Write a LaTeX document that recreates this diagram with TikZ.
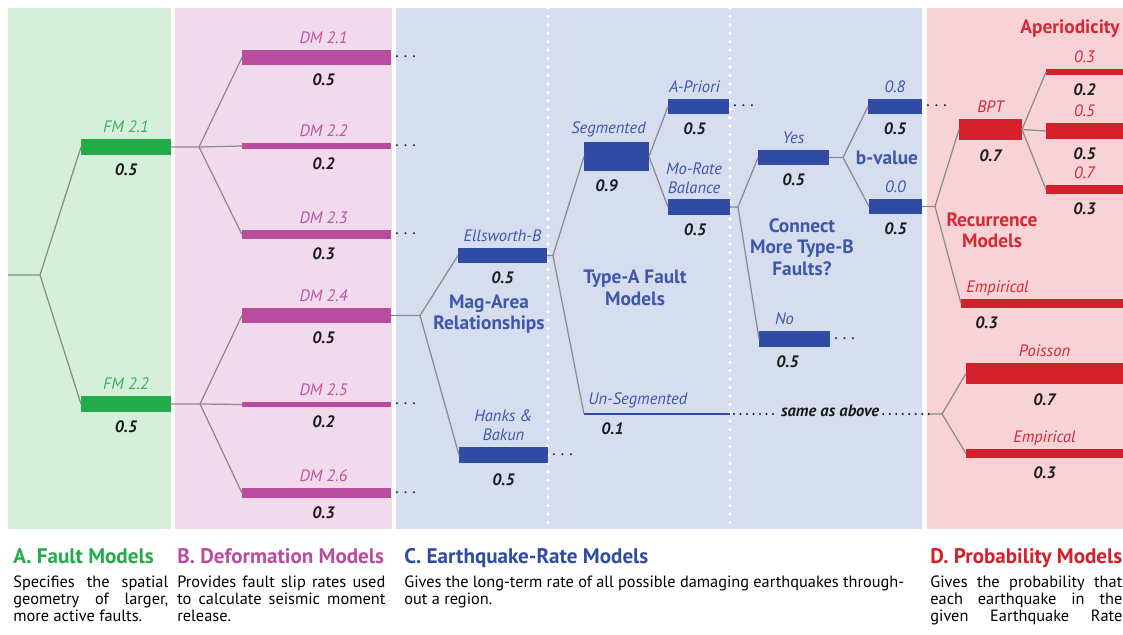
\documentclass[tikz,border=0pt]{standalone}
\usepackage{fontspec}
\setmainfont{PT Sans}
\usepackage{tikz}
\usetikzlibrary{positioning}
\definecolor{fmGreen}{HTML}{22AB4A}
\definecolor{fmText}{HTML}{3CB25A}
\definecolor{fmBg}{HTML}{D5EFDB}
\definecolor{dmPink}{HTML}{B94C9F}
\definecolor{dmText}{HTML}{C052A6}
\definecolor{dmBg}{HTML}{F0DAEB}
\definecolor{erBlue}{HTML}{2F4BA3}
\definecolor{erText}{HTML}{3F57A8}
\definecolor{erBg}{HTML}{D6DDEE}
\definecolor{pmRed}{HTML}{D3202A}
\definecolor{pmText}{HTML}{D72833}
\definecolor{pmBg}{HTML}{F7D3D7}
\definecolor{twigGray}{HTML}{8A8A8A}
\definecolor{wtBlack}{HTML}{1A1A1A}

\begin{document}
\begin{tikzpicture}[
      x=0.02cm, y=-0.02cm,
      twig/.style={draw=twigGray, line width=0.7pt},
      bar/.style={rectangle, inner sep=0pt, outer sep=0pt, anchor=west},
      fmbar/.style={bar, fill=fmGreen, minimum width=1.8cm},
      dmbar/.style={bar, fill=dmPink, minimum width=2.98cm},
      erbar/.style={bar, fill=erBlue},
      pmbar/.style={bar, fill=pmRed},
      wt1/.style={minimum height=0.05cm},
      wt2/.style={minimum height=0.11cm},
      wt3/.style={minimum height=0.19cm},
      wt5/.style={minimum height=0.31cm},
      wt7/.style={minimum height=0.44cm},
      wt9/.style={minimum height=0.58cm},
      lbl/.style={inner sep=0pt, text depth=0pt, align=center,
                  font=\fontsize{9.4}{10.8}\selectfont\itshape},
      wt/.style={inner sep=0pt, text height=6.5pt, text depth=0pt, text=wtBlack,
                  font=\fontsize{9.4}{11}\selectfont\bfseries\itshape},
      grp/.style={align=center, inner sep=0pt,
                  font=\fontsize{11}{12.2}\selectfont\bfseries},
      more/.style={anchor=west, inner sep=0pt, text=wtBlack, font=\fontsize{11}{13}\selectfont},
      dotline/.style={draw=wtBlack, line width=1.3pt, line cap=round, dash pattern=on 0pt off 3.7pt},
      sep/.style={draw=white, line width=2.2pt, line cap=round, dash pattern=on 0pt off 4.8pt},
      head/.style={anchor=base west, inner sep=0pt, font=\fontsize{12}{14}\selectfont\bfseries},
      desc/.style={anchor=base west, inner sep=0pt, align=justify,
                  font=\fontsize{9.3}{9.7}\selectfont},
    ]
    \useasboundingbox (0,0) rectangle (1123,635);

    % ---------- panels ----------
    \fill[fmBg] (8,8) rectangle (171,529);
    \fill[dmBg] (175,8) rectangle (392,529);
    \fill[erBg] (396,8) rectangle (922,529);
    \fill[pmBg] (927,8) rectangle (1123,529);
    \draw[sep] (548,8) -- (548,529);
    \draw[sep] (730,8) -- (730,529);

    % ---------- A. fault models ----------
    \node[fmbar, wt5] (fm1) at (81,147) {};
    \node[fmbar, wt5] (fm2) at (81,404) {};

    % ---------- B. deformation models ----------
    \node[dmbar, wt5] (dm1) at (242,57.5) {};
    \node[dmbar, wt2] (dm2) at (242,146) {};
    \node[dmbar, wt3] (dm3) at (242,234.5) {};
    \node[dmbar, wt5] (dm4) at (242,315.5) {};
    \node[dmbar, wt2] (dm5) at (242,404.5) {};
    \node[dmbar, wt3] (dm6) at (242,493) {};

    % ---------- C. earthquake-rate models ----------
    \node[erbar, wt5, minimum width=1.78cm] (ells)   at (458,255.5) {};
    \node[erbar, wt5, minimum width=1.78cm] (hanks)  at (459,455)   {};
    \node[erbar, wt9, minimum width=1.3cm]  (seg)    at (584,156.5) {};
    \node[erbar, wt1, minimum width=2.92cm] (unseg)  at (584,414)   {};
    \node[erbar, wt5, minimum width=1.22cm] (apri)   at (668,106.5) {};
    \node[erbar, wt5, minimum width=1.24cm] (morate) at (668,207)   {};
    \node[erbar, wt5, minimum width=1.42cm] (yes)    at (758,157.5) {};
    \node[erbar, wt5, minimum width=1.42cm] (no)     at (759,339)   {};
    \node[erbar, wt5, minimum width=1.08cm] (b08)    at (868,106.5) {};
    \node[erbar, wt5, minimum width=1.06cm] (b00)    at (869,206.5) {};

    % ---------- D. probability models ----------
    \node[pmbar, wt7, minimum width=1.26cm] (bpt)  at (959,129.5) {};
    \node[pmbar, wt3, minimum width=3.24cm] (emp1) at (961,303.5) {};
    \node[pmbar, wt2, minimum width=1.54cm] (ap3)  at (1046,72)   {};
    \node[pmbar, wt5, minimum width=1.54cm] (ap5)  at (1046,131)  {};
    \node[pmbar, wt3, minimum width=1.54cm] (ap7)  at (1046,189.5) {};
    \node[pmbar, wt7, minimum width=3.14cm] (pois) at (966,373.5) {};
    \node[pmbar, wt3, minimum width=3.14cm] (emp2) at (966,453.5) {};

    % ---------- branches ----------
    \coordinate (root)    at (8,275);
    \coordinate (bRoot)   at (40,275);
    \coordinate (bFM1)    at (199,147);
    \coordinate (bFM2)    at (200,404);
    \coordinate (bDM4)    at (420,315.5);
    \coordinate (bEll)    at (553,255.5);
    \coordinate (bMo)     at (738,207);
    \coordinate (bYes)    at (843,157.5);
    \coordinate (bB00)    at (935,206.5);
    \coordinate (sameEnd) at (929,414);
    \coordinate (bSame)   at (942,414);

    \draw[twig] (root) -- (bRoot) -- (fm1.west);
    \draw[twig] (bRoot) -- (fm2.west);
    \draw[twig] (fm1.east) -- (bFM1) -- (dm1.west);
    \draw[twig] (bFM1) -- (dm2.west);
    \draw[twig] (bFM1) -- (dm3.west);
    \draw[twig] (fm2.east) -- (bFM2) -- (dm4.west);
    \draw[twig] (bFM2) -- (dm5.west);
    \draw[twig] (bFM2) -- (dm6.west);
    \draw[twig] (dm4.east) -- (bDM4) -- (ells.west);
    \draw[twig] (bDM4) -- (hanks.west);
    \draw[twig] (ells.east) -- (bEll) -- (seg.west);
    \draw[twig] (bEll) -- (unseg.west);
    \draw[twig] (seg.east) -- (apri.west);
    \draw[twig] (seg.east) -- (morate.west);
    \draw[twig] (morate.east) -- (bMo) -- (yes.west);
    \draw[twig] (bMo) -- (no.west);
    \draw[twig] (yes.east) -- (bYes) -- (b08.west);
    \draw[twig] (bYes) -- (b00.west);
    \draw[twig] (b00.east) -- (bB00) -- (bpt.west);
    \draw[twig] (bB00) -- (emp1.west);
    \draw[twig] (bpt.east) -- (ap3.west);
    \draw[twig] (bpt.east) -- (ap5.west);
    \draw[twig] (bpt.east) -- (ap7.west);
    \draw[twig] (sameEnd) -- (bSame) -- (pois.west);
    \draw[twig] (bSame) -- (emp2.west);

    % ---------- "same as above" ----------
    \node[inner sep=0pt, text=wtBlack, font=\fontsize{9.4}{11}\selectfont\bfseries\itshape]
      (same) at (830,411) {same as above};
    \draw[dotline] ([xshift=0.08cm]unseg.east) -- ([xshift=-0.08cm]same.west |- unseg.east);
    \draw[dotline] ([xshift=0.08cm]same.east |- unseg.east) -- (sameEnd);

    % ---------- dots ----------
    \foreach \b in {dm1,dm2,dm3,dm5,dm6,hanks,apri,no,b08}
      \node[more, right=0.06cm of \b] (\b m) {$\cdotp\cdotp\cdotp$};

    % ---------- names ----------
    \node[lbl, text=fmText, above=3.4pt of fm1] (fm1l) {FM 2.1};
    \node[lbl, text=fmText, above=3.4pt of fm2] (fm2l) {FM 2.2};
    \foreach \i in {1,...,6}
      \node[lbl, text=dmText, above=3.4pt of dm\i, xshift=0.14cm] (dm\i l) {DM 2.\i};
    \node[lbl, text=erText, above=3.4pt of ells] (ellsl) {Ellsworth-B};
    \node[lbl, text=erText, above=3.6pt of hanks] (hanksl) {Hanks \&\\Bakun};
    \node[lbl, text=erText, above=4.5pt of seg, xshift=-0.16cm] (segl) {Segmented};
    \node[lbl, text=erText, anchor=south west] (unsegl)
      at ([xshift=0.08cm, yshift=4.5pt]unseg.north west) {Un-Segmented};
    \node[lbl, text=erText, above=3.4pt of apri, xshift=-0.08cm] (april) {A-Priori};
    \node[lbl, text=erText, above=3pt of morate, xshift=-0.1cm] (moratel) {Mo-Rate\\Balance};
    \node[lbl, text=erText, above=3.4pt of yes] (yesl) {Yes};
    \node[lbl, text=erText, above=3.4pt of no, xshift=-0.2cm] (nol) {No};
    \node[lbl, text=erText, above=3.4pt of b08] (b08l) {0.8};
    \node[lbl, text=erText, above=3.4pt of b00] (b00l) {0.0};
    \node[lbl, text=pmText, above=3.4pt of bpt] (bptl) {BPT};
    \node[lbl, text=pmText, anchor=south west] (emp1l)
      at ([xshift=0.1cm, yshift=3.4pt]emp1.north west) {Empirical};
    \node[lbl, text=pmText, above=3.4pt of ap3] (ap3l) {0.3};
    \node[lbl, text=pmText, above=3.4pt of ap5] (ap5l) {0.5};
    \node[lbl, text=pmText, above=3.4pt of ap7] (ap7l) {0.7};
    \node[lbl, text=pmText, above=3.4pt of pois] (poisl) {Poisson};
    \node[lbl, text=pmText, above=3.4pt of emp2] (emp2l) {Empirical};

    % ---------- weights ----------
    \node[wt, below=5pt of fm1] (fm1w) {0.5};
    \node[wt, below=5pt of fm2] (fm2w) {0.5};
    \node[wt, below=5pt of dm1, xshift=0.14cm] (dm1w) {0.5};
    \node[wt, below=5pt of dm2, xshift=0.14cm] (dm2w) {0.2};
    \node[wt, below=5pt of dm3, xshift=0.14cm] (dm3w) {0.3};
    \node[wt, below=5pt of dm4, xshift=0.14cm] (dm4w) {0.5};
    \node[wt, below=5pt of dm5, xshift=0.14cm] (dm5w) {0.2};
    \node[wt, below=5pt of dm6, xshift=0.14cm] (dm6w) {0.3};
    \node[wt, below=5pt of ells] (ellsw) {0.5};
    \node[wt, below=6pt of hanks] (hanksw) {0.5};
    \node[wt, below=5pt of seg, xshift=-0.2cm] (segw) {0.9};
    \node[wt, anchor=north west] (unsegw)
      at ([xshift=0.34cm, yshift=-4.5pt]unseg.south west) {0.1};
    \node[wt, below=5pt of apri, xshift=-0.08cm] (apriw) {0.5};
    \node[wt, below=5pt of morate, xshift=-0.08cm] (moratew) {0.5};
    \node[wt, below=5pt of yes] (yesw) {0.5};
    \node[wt, below=5pt of no, xshift=-0.14cm] (now) {0.5};
    \node[wt, below=5pt of b08] (b08w) {0.5};
    \node[wt, below=5pt of b00] (b00w) {0.5};
    \node[wt, below=5pt of bpt] (bptw) {0.7};
    \node[wt, anchor=north west] (emp1w)
      at ([xshift=0.28cm, yshift=-5pt]emp1.south west) {0.3};
    \node[wt, below=5pt of ap3] (ap3w) {0.2};
    \node[wt, below=5pt of ap5] (ap5w) {0.5};
    \node[wt, below=5pt of ap7] (ap7w) {0.3};
    \node[wt, below=5pt of pois] (poisw) {0.7};
    \node[wt, below=5pt of emp2] (emp2w) {0.3};

    % ---------- node groups ----------
    \node[grp, text=erText] (magarea) at (489,314) {Mag-Area\\Relationships};
    \node[grp, text=erText] (typea)   at (635,288) {Type-A Fault\\Models};
    \node[grp, text=erText] (typeb)   at (802,247) {Connect\\More Type-B\\Faults?};
    \node[grp, text=erText] (bvalue)  at (887,158) {b-value};
    \node[grp, text=pmText] (recur)   at (992,230) {Recurrence\\Models};
    \node[grp, text=pmText] (aper)    at (1070,29) {Aperiodicity};

    % ---------- captions ----------
    \node[head, text=fmGreen] (headA) at (13,563)  {A. Fault Models};
    \node[head, text=dmPink]  (headB) at (177,563) {B. Deformation Models};
    \node[head, text=erBlue]  (headC) at (404,563) {C. Earthquake-Rate Models};
    \node[head, text=pmRed]   (headD) at (930,563) {D. Probability Models};

    \node[desc, text width=3.1cm] (descA) at (13,587)
      {Specifies the spatial\linebreak geometry of larger,\linebreak more active faults.};
    \node[desc, text width=4.16cm] (descB) at (177,587)
      {Provides fault slip rates used\linebreak to calculate seismic moment\linebreak release.};
    \node[desc, text width=10cm] (descC) at (404,587)
      {Gives the long-term rate of all possible damaging earthquakes through-\linebreak out a region.};
    \node[desc, text width=3.84cm] (descD) at (930,587)
      {\parfillskip=0pt Gives the probability that\linebreak each earthquake in the\linebreak given Earthquake Rate\par};

  \end{tikzpicture}
\end{document}
